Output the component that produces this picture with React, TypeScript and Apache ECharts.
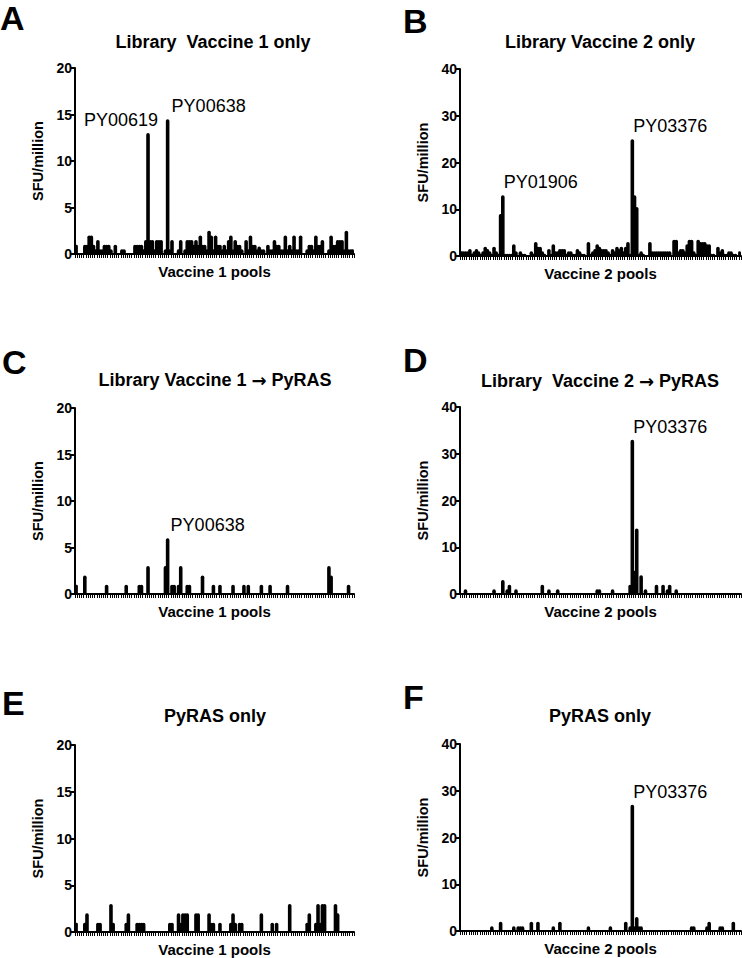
import React, { useEffect, useRef } from "react";
import * as echarts from "echarts";

const POOL_COUNT = 128;
const pools: string[] = Array.from({ length: POOL_COUNT }, (_, i) => `Pool ${i + 1}`);

// Panel A: Library Vaccine 1 only (SFU/million per pool)
const libraryVaccine1Only = [
  1, 0, 0, 0, 1, 1, 2, 2, 1, 0.5, 1.5, 0.5, 0.5, 1, 1, 1,
  0.5, 0, 1, 0, 0, 0.5, 0.5, 0, 0, 0, 0, 1, 1, 1, 1, 0.5,
  1.5, 13, 1.5, 1.5, 0.5, 1.5, 1.5, 1.5, 0, 0.5, 14.5, 0.5, 1.5, 0, 0, 0.5,
  1.5, 0, 0.5, 1.5, 1.5, 1.5, 1, 1.5, 1, 2, 1, 1, 0.5, 2.5, 2, 0.5,
  2, 1, 1, 0.5, 1, 0.5, 1.5, 2, 0.5, 1.5, 1, 1, 0.5, 0, 1.5, 0.5,
  2, 1, 1, 0.5, 0.8, 0.5, 0.5, 0, 1, 0.5, 0.5, 1.5, 1, 1, 0.5, 0.5,
  2, 0.5, 1, 0.5, 2, 0.5, 0.5, 2, 0, 0, 0.5, 1, 1, 0.5, 2, 1,
  1, 1.5, 0, 0, 0.5, 2, 1, 1, 1.5, 1.5, 1.5, 0.5, 2.5, 0.5, 0.5, 0.5,
];

// Panel B: Library Vaccine 2 only
const libraryVaccine2Only = [
  1, 1, 1, 1, 1.5, 0.5, 1, 1.5, 1, 0.5, 1, 2, 1.5, 1, 0.5, 2,
  1, 0.5, 9, 13, 0.5, 0.5, 0.5, 0.5, 2.5, 1, 0, 1, 0.5, 0.5, 0, 0,
  1, 0.5, 3, 2, 2, 1, 0.5, 0, 1.5, 0.5, 2.5, 1, 1, 1.5, 1.5, 1.5,
  0.5, 1, 1, 0.5, 0.5, 1.5, 1, 0.5, 0.5, 0, 3, 0.5, 1, 1.5, 2.5, 2,
  1.5, 1.5, 1.5, 1, 0.5, 1.5, 1, 2, 1.5, 2, 1, 2, 3, 0.5, 25, 13,
  10.5, 0.5, 1, 0.5, 0, 0, 3, 1, 1, 1, 1, 1, 1, 1, 1, 1,
  0, 3.5, 3.5, 1, 1.5, 1.5, 1, 2.5, 3.5, 3.5, 1, 0.5, 3.5, 3, 3, 3,
  2.5, 2.5, 0.5, 0.5, 0, 2, 1, 1.5, 0.5, 0.5, 1, 1, 0.5, 0.5, 0, 1,
];

// Panels C–F: [pool index, SFU/million] for non-zero pools (all others read as 0)
const vaccine1ThenPyRAS: [number, number][] = [
  [0, 1], [4, 2], [14, 1], [23, 1], [29, 1], [30, 1], [33, 3], [41, 3], [42, 6],
  [44, 1], [45, 1], [47, 1], [48, 3], [51, 1], [52, 1], [58, 2], [63, 1], [66, 1],
  [72, 1], [77, 1], [79, 1], [85, 1], [89, 1], [97, 1], [116, 3], [117, 2], [125, 1],
];
const vaccine2ThenPyRAS: [number, number][] = [
  [2, 1], [15, 1], [19, 3], [21, 1], [22, 2], [25, 1], [37, 2], [40, 1], [44, 1],
  [62, 1], [63, 1], [69, 1], [77, 2], [78, 33], [79, 5], [80, 14], [82, 4], [84, 1],
  [89, 2], [92, 2], [94, 1], [95, 2], [98, 1],
];
const pyrasOnlyV1: [number, number][] = [
  [0, 1], [4, 1], [5, 2], [10, 1], [11, 1], [16, 3], [17, 1], [23, 1], [24, 2],
  [28, 1], [29, 1], [30, 1], [31, 1], [43, 1], [44, 1], [47, 2], [48, 1], [49, 2],
  [50, 2], [51, 2], [55, 2], [56, 2], [61, 2], [62, 1], [63, 1], [66, 1], [71, 1],
  [72, 2], [73, 1], [75, 1], [76, 1], [85, 2], [90, 1], [92, 1], [98, 3], [106, 1],
  [107, 2], [110, 1], [111, 3], [112, 1], [113, 3], [114, 3], [119, 3], [120, 2],
];
const pyrasOnlyV2: [number, number][] = [
  [14, 1], [18, 2], [24, 1], [26, 1], [27, 1], [28, 1], [32, 2], [35, 2], [42, 1],
  [45, 2], [58, 1], [68, 1], [75, 2], [77, 1], [78, 27], [79, 1], [80, 3], [81, 1],
  [82, 1], [105, 1], [106, 1], [112, 1], [113, 2], [118, 1], [119, 1], [124, 2],
];

const panelLetters = ["A", "B", "C", "D", "E", "F"];
// "->" marks where the arrow glyph goes
const panelTitles = [
  "Library  Vaccine 1 only",
  "Library Vaccine 2 only",
  "Library Vaccine 1 -> PyRAS",
  "Library  Vaccine 2 -> PyRAS",
  "PyRAS only",
  "PyRAS only",
];
const xAxisNames = [
  "Vaccine 1 pools",
  "Vaccine 2 pools",
  "Vaccine 1 pools",
  "Vaccine 2 pools",
  "Vaccine 1 pools",
  "Vaccine 2 pools",
];
const yMax = [20, 40, 20, 40, 20, 40];
const yInterval = [5, 10, 5, 10, 5, 10];
// [panel, pool index, label]
const peakLabels: [number, number, string][] = [
  [0, 33, "PY00619"],
  [0, 42, "PY00638"],
  [1, 19, "PY01906"],
  [1, 78, "PY03376"],
  [2, 42, "PY00638"],
  [3, 78, "PY03376"],
  [5, 78, "PY03376"],
];

function densify(pairs: [number, number][]): number[] {
  const out = new Array(POOL_COUNT).fill(0);
  pairs.forEach(([i, v]) => (out[i] = v));
  return out;
}

const FONT = "'Liberation Sans', Arial, Helvetica, sans-serif";

function richTitle(t: string): string {
  const parts = t.split(" -> ");
  if (parts.length === 1) return `{a|${t}}`;
  return `{a|${parts[0]} }{b|\u2192}{a| ${parts[1]}}`;
}

export default function App() {
  const ref = useRef<HTMLDivElement>(null);

  useEffect(() => {
    if (!ref.current) return;
    const chart = echarts.init(ref.current, null, { renderer: "svg" });

    const panelData: number[][] = [
      libraryVaccine1Only,
      libraryVaccine2Only,
      densify(vaccine1ThenPyRAS),
      densify(vaccine2ThenPyRAS),
      densify(pyrasOnlyV1),
      densify(pyrasOnlyV2),
    ];

    const grids = [
      { left: 75, top: 68, width: 279, height: 186 },
      { left: 460, top: 69, width: 281, height: 187 },
      { left: 75, top: 408, width: 279, height: 186 },
      { left: 460, top: 407, width: 281, height: 187 },
      { left: 75, top: 745, width: 279, height: 187 },
      { left: 460, top: 744, width: 281, height: 187 },
    ];
    const labelDx: Record<string, number> = {
      "0-33": -27,
      "0-42": 41,
      "1-19": 38,
      "1-78": 38,
      "2-42": 40,
      "3-78": 38,
      "5-78": 38,
    };

    const titleX = [213, 600, 215, 600, 215, 600];
    const titleY = [42, 42, 380, 381, 716, 716];
    const letterX = [0, 403, 2, 403, 2, 403];
    const letterY = [1, 4, 345, 343, 686, 680];

    const option: any = {
      animation: false,
      backgroundColor: "#fff",
      textStyle: { fontFamily: FONT },
      grid: grids.map((g) => ({ ...g, containLabel: false })),
      xAxis: grids.map((_, i) => ({
        type: "category",
        gridIndex: i,
        data: pools,
        boundaryGap: true,
        name: xAxisNames[i],
        nameLocation: "middle",
        nameGap: 10,
        nameTextStyle: { color: "#000", fontWeight: "bold", fontSize: 15, fontFamily: FONT },
        axisLine: { show: true, lineStyle: { color: "#000", width: 2 } },
        axisTick: { show: true, interval: 0, length: 4, lineStyle: { color: "#000", width: 1 } },
        axisLabel: { show: false },
        splitLine: { show: false },
      })),
      yAxis: grids.map((_, i) => ({
        type: "value",
        gridIndex: i,
        min: 0,
        max: yMax[i],
        interval: yInterval[i],
        name: "SFU/million",
        nameLocation: "middle",
        nameGap: 30,
        nameTextStyle: { color: "#000", fontWeight: "bold", fontSize: 14.5, fontFamily: FONT },
        axisLine: { show: true, lineStyle: { color: "#000", width: 2 } },
        axisTick: { show: true, length: 5, lineStyle: { color: "#000", width: 2 } },
        axisLabel: { color: "#000", fontWeight: "bold", fontSize: 14, margin: 3, fontFamily: FONT },
        splitLine: { show: false },
      })),
      series: panelData.map((vals, p) => ({
        type: "bar",
        xAxisIndex: p,
        yAxisIndex: p,
        barWidth: 3.6,
        itemStyle: { color: "#000", borderRadius: [1.8, 1.8, 0, 0] },
        data: vals.map((v, idx) => {
          const lab = peakLabels.find((l) => l[0] === p && l[1] === idx);
          if (!lab) return v;
          return {
            value: v,
            label: {
              show: true,
              position: "top",
              distance: 4,
              offset: [labelDx[`${p}-${idx}`] ?? 0, 0],
              formatter: lab[2],
              color: "#000",
              fontSize: 18,
              fontFamily: FONT,
            },
          };
        }),
      })),
      graphic: [
        ...panelTitles.map((t, i) => ({
          type: "text",
          x: titleX[i],
          y: titleY[i],
          style: {
            text: richTitle(t),
            align: "center",
            verticalAlign: "middle",
            fill: "#000",
            rich: {
              a: { font: `bold 18px ${FONT}`, fill: "#000" },
              b: { font: `bold 18px 'DejaVu Sans', sans-serif`, fill: "#000" },
            },
          },
        })),
        ...panelLetters.map((t, i) => ({
          type: "text",
          x: letterX[i],
          y: letterY[i],
          style: {
            text: t,
            align: "left",
            verticalAlign: "top",
            fill: "#000",
            font: `bold 34px ${FONT}`,
          },
        })),
      ],
    };

    chart.setOption(option);
    return () => chart.dispose();
  }, []);

  return (
    <div
      ref={ref}
      style={{ position: "fixed", left: 0, top: 0, width: 742, height: 958, background: "#fff" }}
    />
  );
}
